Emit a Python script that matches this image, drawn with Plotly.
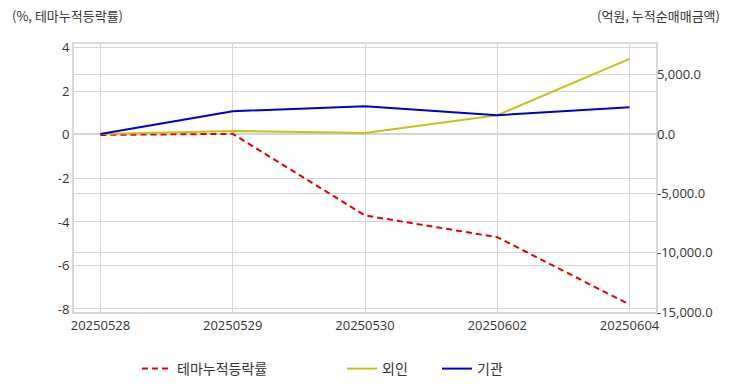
import plotly.graph_objects as go

dates = ["20250528", "20250529", "20250530", "20250602", "20250604"]
theme_return = [0.0, 0.05, -3.7, -4.7, -7.8]
foreign = [0.0, 250.0, 80.0, 1580.0, 6330.0]
institution = [0.0, 1920.0, 2330.0, 1580.0, 2250.0]

left_ticks = [4, 2, 0, -2, -4, -6, -8]
left_labels = ["4", "2", "0", "-2", "-4", "-6", "-8"]
right_ticks = [5000, 0, -5000, -10000, -15000]
right_labels = ["5,000.0", "0.0", "-5,000.0", "-10,000.0", "-15,000.0"]

font_family = "Open Sans, Noto Sans CJK KR, sans-serif"
# page is offset by the 8px body margin, so figure coords = page coords - 8
OFF = 8
W, H = 732 - OFF, 392 - OFF
PL, PR, PT, PB = 74 - OFF, 656 - OFF, 44 - OFF, 312 - OFF
PW, PH = PR - PL, PB - PT

fig = go.Figure()
fig.add_trace(go.Scatter(x=dates, y=theme_return, name="테마누적등락률", mode="lines",
                         line=dict(color="#e00000", width=2, dash="6px,4px"), yaxis="y", legend="legend"))
fig.add_trace(go.Scatter(x=dates, y=foreign, name="외인", mode="lines",
                         line=dict(color="#c8bf1a", width=2), yaxis="y2", legend="legend2"))
fig.add_trace(go.Scatter(x=dates, y=institution, name="기관", mode="lines",
                         line=dict(color="#0000cc", width=2), yaxis="y2", legend="legend3"))

def leg(page_x):
    return dict(orientation="h", x=(page_x - OFF - PL) / PW, xanchor="left",
                y=-(353 - OFF - PB) / PH, yanchor="top",
                font=dict(size=14, color="#333333", family="Noto Sans CJK KR"),
                bgcolor="rgba(0,0,0,0)")

fig.update_layout(
    width=W, height=H,
    margin=dict(l=PL, r=W - PR, t=PT, b=H - PB, autoexpand=False),
    paper_bgcolor="white", plot_bgcolor="white",
    font=dict(family=font_family, size=13, color="#333333"),
    showlegend=True,
    legend=leg(137),
    legend2=leg(342),
    legend3=leg(437),
    xaxis=dict(type="category", range=[-0.2, 4.2], showgrid=True, gridcolor="#d4d4d4",
               gridwidth=1, showline=True, linecolor="#d8d8d8", linewidth=2, mirror=True,
               ticks="", tickfont=dict(size=13, color="#333333"), zeroline=False,
               automargin=False),
    yaxis=dict(range=[-8.14, 4.18], tickvals=left_ticks, ticktext=left_labels,
               showgrid=True, gridcolor="#d4d4d4",
               showline=True, linecolor="#d8d8d8", linewidth=2, mirror=True,
               zeroline=False, ticks="", tickfont=dict(size=13, color="#333333"),
               automargin=False),
    yaxis2=dict(range=[-15000, 7580], tickvals=right_ticks, ticktext=right_labels,
                overlaying="y", side="right", showgrid=True, gridcolor="#d4d4d4",
                zeroline=False, ticks="", tickfont=dict(size=13, color="#333333"),
                automargin=False),
)
fig.add_annotation(text="(%, 테마누적등락률)", xref="paper", yref="paper",
                   x=(10 - OFF - PL) / PW, y=1 + (44 - 16) / PH, xanchor="left", yanchor="middle",
                   showarrow=False, font=dict(size=13, color="#333333", family="Noto Sans CJK KR"))
fig.add_annotation(text="(억원, 누적순매매금액)", xref="paper", yref="paper",
                   x=(722 - OFF - PL) / PW, y=1 + (44 - 16) / PH, xanchor="right", yanchor="middle",
                   showarrow=False, font=dict(size=13, color="#333333", family="Noto Sans CJK KR"))

fig.write_html("out.html")
